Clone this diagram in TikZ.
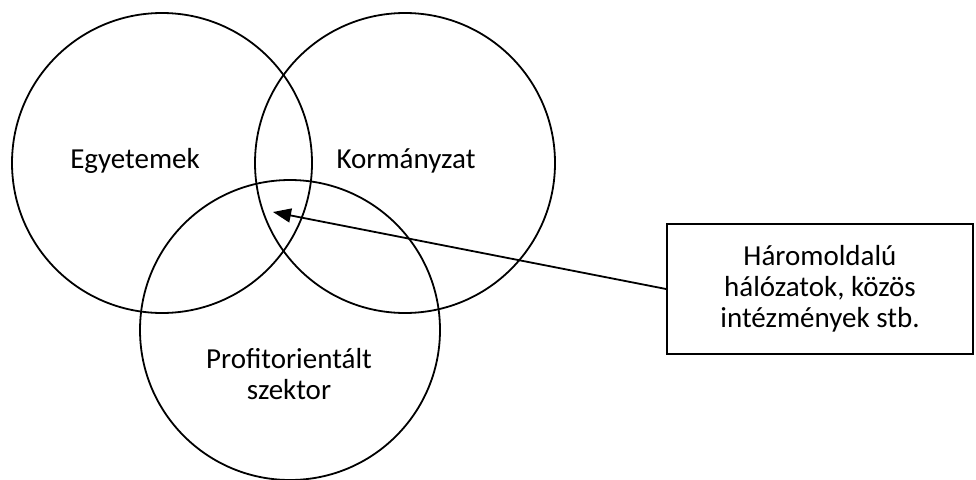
\documentclass[tikz,border=0pt]{standalone}
\usepackage{fontspec}
\setmainfont{Carlito}
\usetikzlibrary{arrows.meta}
\begin{document}
\begin{tikzpicture}[x=1pt,y=-1pt,
  ring/.style={draw,line width=1.8pt,circle,minimum size=300pt,inner sep=0pt},
  lbl/.style={font=\fontsize{29}{31}\selectfont,align=center,inner sep=0pt},
  note/.style={draw,line width=1.8pt,minimum width=306pt,minimum height=130pt,align=center,font=\fontsize{29}{31}\selectfont}]
\useasboundingbox (0,0) rectangle (976,479);
\node[ring] (uni) at (162,163) {};
\node[ring] (gov) at (405,163) {};
\node[ring] (ind) at (290,330) {};
\node[lbl] (tuni) at (135,161) {Egyetemek};
\node[lbl] (tgov) at (406,161) {Kormányzat};
\node[lbl] (tind) at (289,374) {Profitorientált\\szektor};
\node[note] (box) at (820,289) {Háromoldalú\\hálózatok, közös\\intézmények stb.};
\coordinate (tip) at (273,212);
\draw[line width=1.8pt,-{Triangle[length=18pt,width=14pt]}] (box.west) -- (tip);
\end{tikzpicture}
\end{document}
